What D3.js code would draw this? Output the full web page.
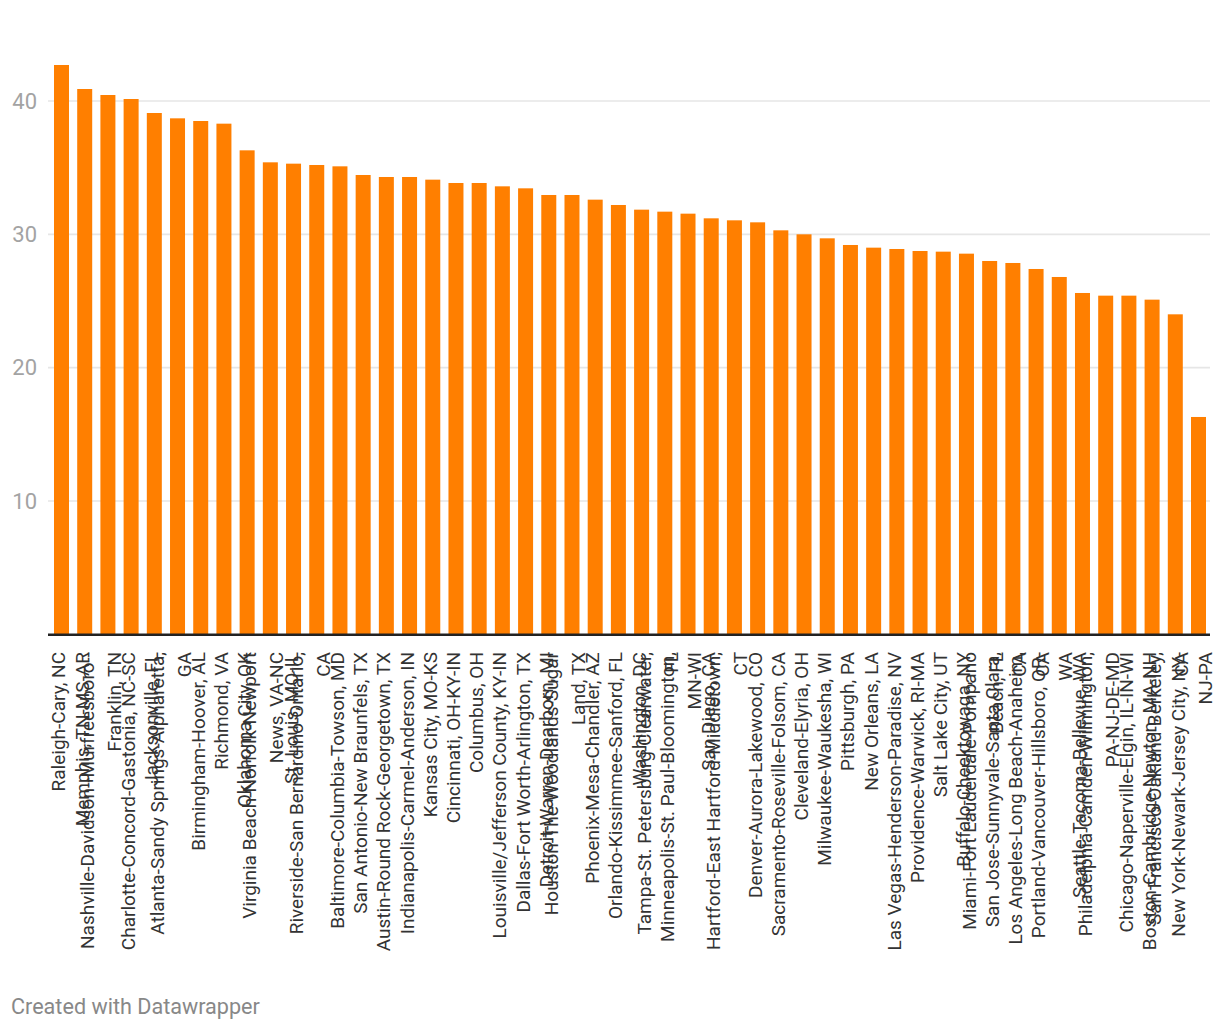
<!DOCTYPE html>
<html>
<head>
<meta charset="utf-8">
<script src="https://cdn.jsdelivr.net/npm/d3@7"></script>
<style>
  html, body { margin: 0; padding: 0; background: #fff; }
  svg { display: block; font-family: Roboto, "Noto Sans", sans-serif; }
</style>
</head>
<body>
<svg id="chart" width="1220" height="1032"></svg>
<script>
// ---- data ----
const categories = [
  "Raleigh-Cary, NC",
  "Memphis, TN-MS-AR",
  "Nashville-Davidson--Murfreesboro--Franklin, TN",
  "Charlotte-Concord-Gastonia, NC-SC",
  "Jacksonville, FL",
  "Atlanta-Sandy Springs-Alpharetta, GA",
  "Birmingham-Hoover, AL",
  "Richmond, VA",
  "Oklahoma City, OK",
  "Virginia Beach-Norfolk-Newport News, VA-NC",
  "St. Louis, MO-IL",
  "Riverside-San Bernardino-Ontario, CA",
  "Baltimore-Columbia-Towson, MD",
  "San Antonio-New Braunfels, TX",
  "Austin-Round Rock-Georgetown, TX",
  "Indianapolis-Carmel-Anderson, IN",
  "Kansas City, MO-KS",
  "Cincinnati, OH-KY-IN",
  "Columbus, OH",
  "Louisville/Jefferson County, KY-IN",
  "Dallas-Fort Worth-Arlington, TX",
  "Detroit-Warren-Dearborn, MI",
  "Houston-The Woodlands-Sugar Land, TX",
  "Phoenix-Mesa-Chandler, AZ",
  "Orlando-Kissimmee-Sanford, FL",
  "Washington, DC",
  "Tampa-St. Petersburg-Clearwater, FL",
  "Minneapolis-St. Paul-Bloomington, MN-WI",
  "San Diego, CA",
  "Hartford-East Hartford-Middletown, CT",
  "Denver-Aurora-Lakewood, CO",
  "Sacramento-Roseville-Folsom, CA",
  "Cleveland-Elyria, OH",
  "Milwaukee-Waukesha, WI",
  "Pittsburgh, PA",
  "New Orleans, LA",
  "Las Vegas-Henderson-Paradise, NV",
  "Providence-Warwick, RI-MA",
  "Salt Lake City, UT",
  "Buffalo-Cheektowaga, NY",
  "Miami-Fort Lauderdale-Pompano Beach, FL",
  "San Jose-Sunnyvale-Santa Clara, CA",
  "Los Angeles-Long Beach-Anaheim, CA",
  "Portland-Vancouver-Hillsboro, OR-WA",
  "Seattle-Tacoma-Bellevue, WA",
  "Philadelphia-Camden-Wilmington, PA-NJ-DE-MD",
  "Chicago-Naperville-Elgin, IL-IN-WI",
  "Boston-Cambridge-Newton, MA-NH",
  "San Francisco-Oakland-Berkeley, CA",
  "New York-Newark-Jersey City, NY-NJ-PA"
];

const values = [
  42.7, 40.9, 40.45, 40.15, 39.1, 38.7, 38.5, 38.3, 36.3, 35.4,
  35.3, 35.2, 35.1, 34.45, 34.3, 34.3, 34.1, 33.85, 33.85, 33.6,
  33.45, 32.95, 32.95, 32.6, 32.2, 31.85, 31.7, 31.55, 31.2, 31.05,
  30.9, 30.3, 30.0, 29.7, 29.2, 29.0, 28.9, 28.75, 28.7, 28.55,
  28.0, 27.85, 27.4, 26.8, 25.6, 25.4, 25.4, 25.1, 24.0, 16.3
];

// where each category label wraps (text of the first line; rest goes to line 2)
const wrapBreaks = {
  "Nashville-Davidson--Murfreesboro--Franklin, TN": "Nashville-Davidson--Murfreesboro--",
  "Atlanta-Sandy Springs-Alpharetta, GA": "Atlanta-Sandy Springs-Alpharetta,",
  "Virginia Beach-Norfolk-Newport News, VA-NC": "Virginia Beach-Norfolk-Newport",
  "Riverside-San Bernardino-Ontario, CA": "Riverside-San Bernardino-Ontario,",
  "Houston-The Woodlands-Sugar Land, TX": "Houston-The Woodlands-Sugar",
  "Tampa-St. Petersburg-Clearwater, FL": "Tampa-St. Petersburg-Clearwater,",
  "Minneapolis-St. Paul-Bloomington, MN-WI": "Minneapolis-St. Paul-Bloomington,",
  "Hartford-East Hartford-Middletown, CT": "Hartford-East Hartford-Middletown,",
  "Miami-Fort Lauderdale-Pompano Beach, FL": "Miami-Fort Lauderdale-Pompano",
  "San Jose-Sunnyvale-Santa Clara, CA": "San Jose-Sunnyvale-Santa Clara,",
  "Los Angeles-Long Beach-Anaheim, CA": "Los Angeles-Long Beach-Anaheim,",
  "Portland-Vancouver-Hillsboro, OR-WA": "Portland-Vancouver-Hillsboro, OR-",
  "Philadelphia-Camden-Wilmington, PA-NJ-DE-MD": "Philadelphia-Camden-Wilmington,",
  "San Francisco-Oakland-Berkeley, CA": "San Francisco-Oakland-Berkeley,",
  "New York-Newark-Jersey City, NY-NJ-PA": "New York-Newark-Jersey City, NY-"
};

const yTicks = [10, 20, 30, 40];
const footerText = "Created with Datawrapper";

// ---- layout ----
const svg = d3.select("#chart");
const baseY = 634.3;

const x = d3.scaleBand()
  .domain(categories)
  .range([54, 1206])
  .paddingInner(0.3536)
  .paddingOuter(0);

const y = d3.scaleLinear()
  .domain([0, 40])
  .range([baseY, 101]);

// gridlines
svg.append("g").selectAll("line")
  .data(yTicks)
  .join("line")
  .attr("x1", 48).attr("x2", 1210)
  .attr("y1", d => y(d)).attr("y2", d => y(d))
  .attr("stroke", "#e6e6e6")
  .attr("stroke-width", 1.6);

// y tick labels
svg.append("g").selectAll("text")
  .data(yTicks)
  .join("text")
  .attr("x", 37)
  .attr("y", d => y(d))
  .attr("dy", "0.35em")
  .attr("text-anchor", "end")
  .attr("font-size", 22)
  .attr("fill", "#a3a3a3")
  .text(d => d);

// bars
svg.append("g").selectAll("rect")
  .data(categories.map((c, i) => ({ c, v: values[i] })))
  .join("rect")
  .attr("x", d => x(d.c))
  .attr("width", x.bandwidth())
  .attr("y", d => y(d.v))
  .attr("height", d => baseY - y(d.v))
  .attr("fill", "#ff7f00");

// baseline
svg.append("line")
  .attr("x1", 48).attr("x2", 1210)
  .attr("y1", baseY + 0.5).attr("y2", baseY + 0.5)
  .attr("stroke", "#222")
  .attr("stroke-width", 2.4);

// x labels (rotated, wrapped)
function linesFor(c) {
  const first = wrapBreaks[c];
  if (!first) return [c];
  return [first, c.slice(first.length).trim()];
}
const labelG = svg.append("g");
categories.forEach(c => {
  const cx = x(c) + x.bandwidth() / 2;
  const lines = linesFor(c);
  const offsets = lines.length === 1 ? [4] : [-14, 13];
  lines.forEach((ln, j) => {
    labelG.append("text")
      .attr("transform", `translate(${cx + offsets[j]},652) rotate(-90)`)
      .attr("text-anchor", "end")
      .attr("font-size", 19)
      .attr("fill", "#333")
      .text(ln);
  });
});

// footer
svg.append("text")
  .attr("x", 11)
  .attr("y", 1014)
  .attr("font-size", 21.6)
  .attr("fill", "#888")
  .text(footerText);
</script>
</body>
</html>
